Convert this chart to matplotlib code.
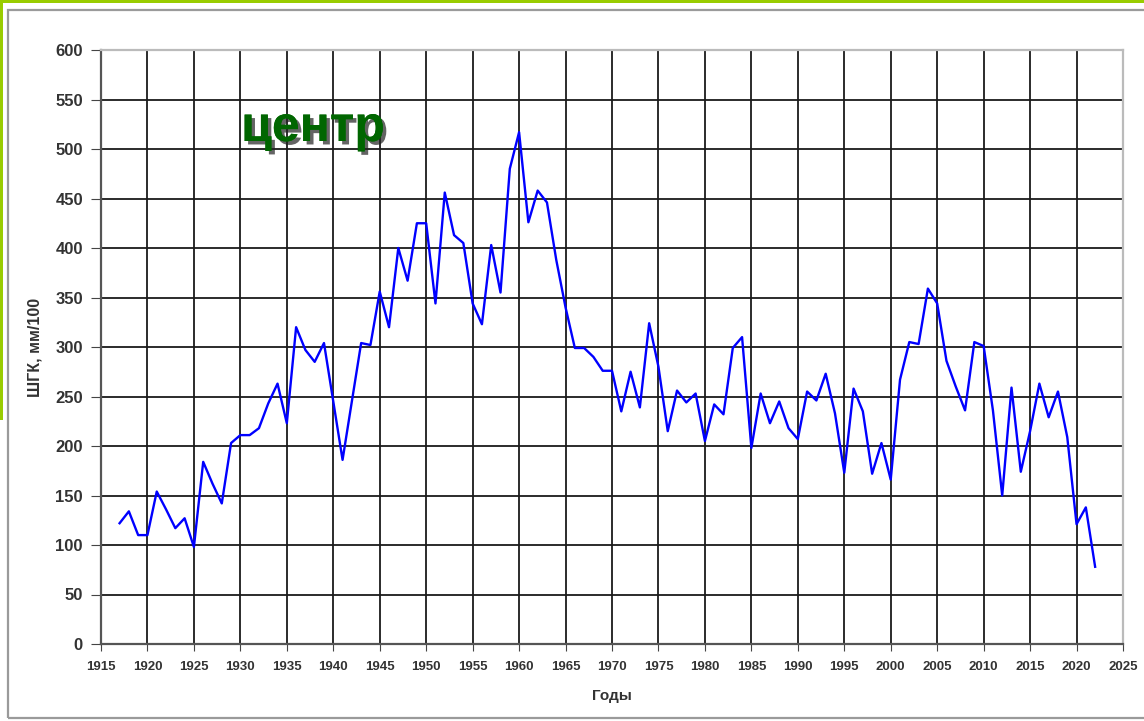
import matplotlib
matplotlib.use('Agg')
from matplotlib import pyplot as plt
from matplotlib import patheffects as pe
from matplotlib.patches import Rectangle

#== Данные ==#
years = list(range(1917, 2023))
shgk = [122, 134, 110, 110, 154, 136, 117, 127, 98, 184,
        162, 142, 203, 211, 211, 218, 243, 263, 223, 320,
        297, 285, 304, 245, 186, 245, 304, 302, 356, 320,
        400, 367, 425, 425, 344, 456, 413, 405, 344, 323,
        403, 355, 480, 517, 426, 458, 446, 388, 340, 299,
        299, 290, 276, 276, 235, 275, 239, 324, 280, 215,
        256, 244, 253, 205, 242, 232, 299, 310, 198, 253,
        223, 245, 218, 207, 255, 246, 273, 233, 173, 258,
        235, 172, 203, 166, 267, 305, 303, 359, 344, 286,
        260, 236, 305, 301, 236, 150, 259, 174, 215, 263,
        229, 255, 209, 121, 138, 78]

x_ticks = list(range(1915, 2026, 5))
y_ticks = list(range(0, 601, 50))

W, H = 1144, 721
fig = plt.figure(figsize=(W / 100, H / 100), dpi=100)
plt.rcParams['font.family'] = ['Liberation Sans', 'DejaVu Sans']

# рамка слайда
fig.patches.append(Rectangle((8 / W, 1 - 718 / H), 1140 / W, 708 / H, transform=fig.transFigure,
                             fill=False, edgecolor='#9a9a9a', linewidth=1.6))
fig.patches.append(Rectangle((0, 1 - 3 / H), 1, 3 / H, transform=fig.transFigure,
                             facecolor='#99cc00', edgecolor='none'))
fig.patches.append(Rectangle((0, 1 - 420 / H), 2.5 / W, 420 / H, transform=fig.transFigure,
                             facecolor='#99cc00', edgecolor='none'))

ax = fig.add_axes([101 / W, 1 - 644 / H, (1123 - 101) / W, (644 - 50) / H])
ax.plot(years, shgk, color='#0000ff', linewidth=1.7)

ax.set_xlim(1915, 2025)
ax.set_ylim(0, 600)
ax.set_xticks(x_ticks)
ax.set_yticks(y_ticks)
ax.grid(True, color='#1a1a1a', linewidth=1.3)
ax.set_axisbelow(True)

for s in ['left', 'bottom']:
    ax.spines[s].set_color('#555555')
    ax.spines[s].set_linewidth(1.6)
for s in ['top', 'right']:
    ax.spines[s].set_color('#bbbbbb')
    ax.spines[s].set_linewidth(1.6)

ax.tick_params(axis='x', direction='out', length=5, color='#444444', labelsize=9.5,
               labelcolor='#333333', pad=7)
ax.tick_params(axis='y', direction='out', length=7, color='#444444', labelsize=12,
               labelcolor='#333333', pad=6)
for lab in ax.get_xticklabels() + ax.get_yticklabels():
    lab.set_fontweight('bold')

ax.set_xlabel('Годы', fontsize=11, fontweight='bold', color='#333333', labelpad=12)
ax.set_ylabel('ШГК, мм/100', fontsize=11.5, fontweight='bold', color='#333333', labelpad=9)

fig.text(313 / W, 1 - 128 / H, 'центр', fontsize=36, fontweight='bold', color='#006600',
         ha='center', va='center',
         path_effects=[pe.withSimplePatchShadow(offset=(2.5, -2.5), shadow_rgbFace='#222222', alpha=0.7),
                       pe.Normal()])

fig.savefig('out.png', dpi=100)
